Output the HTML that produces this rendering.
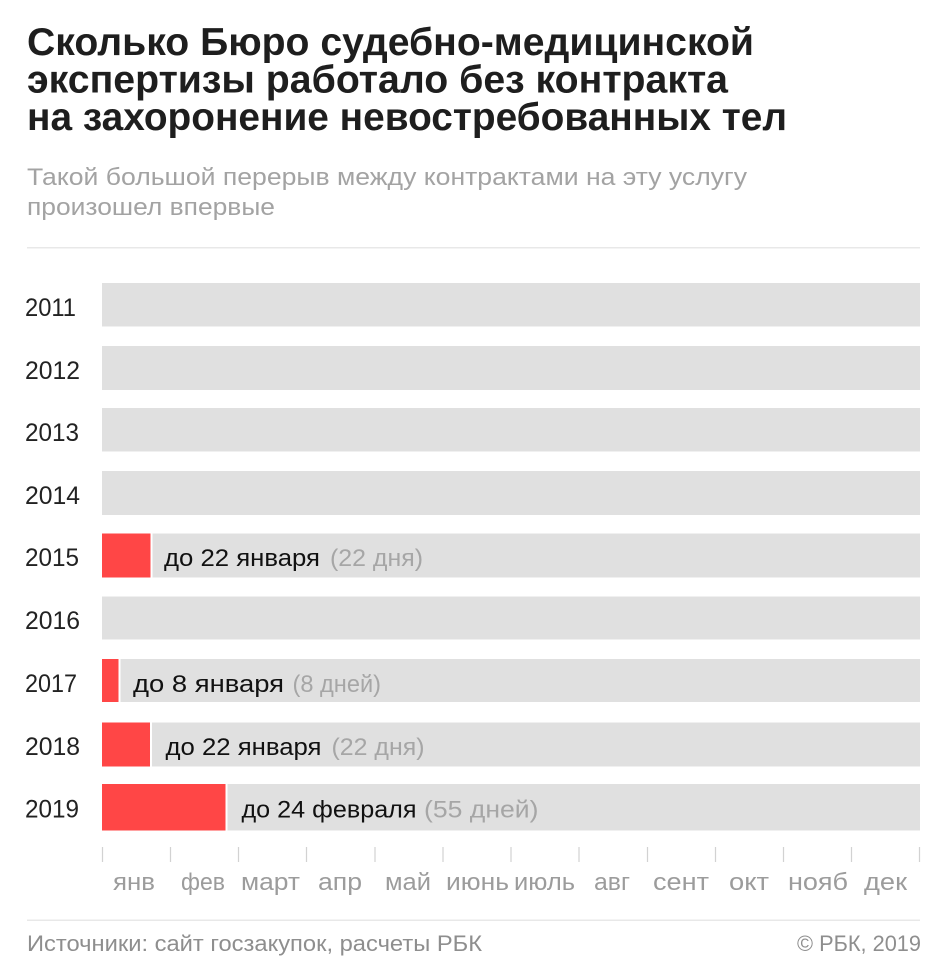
<!DOCTYPE html>
<html>
<head>
<meta charset="utf-8">
<style>
  html, body { margin: 0; padding: 0; background: #ffffff; }
  body { width: 945px; height: 970px; overflow: hidden; }
  svg { display: block; }
  .title { font-family: "Liberation Sans", "Noto Sans CJK SC", sans-serif; font-weight: bold; font-size: 39px; fill: #1e1e1e; }
  .sub { font-family: "Liberation Sans", "Noto Sans CJK SC", sans-serif; font-size: 24px; fill: #a3a3a3; }
  .yr { font-family: "Liberation Sans", "Noto Sans CJK SC", sans-serif; font-size: 25px; fill: #222222; }
  .lbl { font-family: "Liberation Sans", "Noto Sans CJK SC", sans-serif; font-size: 24.5px; fill: #111111; }
  .lblg { font-family: "Liberation Sans", "Noto Sans CJK SC", sans-serif; font-size: 24.5px; fill: #a6a6a6; }
  .mon { font-family: "Liberation Sans", "Noto Sans CJK SC", sans-serif; font-size: 24px; fill: #9c9c9c; }
  .foot { font-family: "Liberation Sans", "Noto Sans CJK SC", sans-serif; font-size: 22px; fill: #8e8e8e; }
</style>
</head>
<body>
<svg width="945" height="970" viewBox="0 0 945 970" xmlns="http://www.w3.org/2000/svg">
  <!-- Title -->
  <text class="title" x="27" y="55" textLength="727" lengthAdjust="spacingAndGlyphs">Сколько Бюро судебно-медицинской</text>
  <text class="title" x="27" y="92.5" textLength="701" lengthAdjust="spacingAndGlyphs">экспертизы работало без контракта</text>
  <text class="title" x="27" y="130" textLength="760" lengthAdjust="spacingAndGlyphs">на захоронение невостребованных тел</text>

  <!-- Subtitle -->
  <text class="sub" x="27" y="185" textLength="720" lengthAdjust="spacingAndGlyphs">Такой большой перерыв между контрактами на эту услугу</text>
  <text class="sub" x="27" y="215" textLength="248" lengthAdjust="spacingAndGlyphs">произошел впервые</text>

  <!-- Top separator -->
  <rect x="27" y="247" width="893" height="1.5" fill="#e8e8e8"/>

  <!-- 2011 -->
  <text class="yr" x="25" y="316" textLength="51" lengthAdjust="spacingAndGlyphs">2011</text>
  <rect x="102" y="283" width="818" height="43.5" fill="#e0e0e0"/>
  <!-- 2012 -->
  <text class="yr" x="25" y="379" textLength="55" lengthAdjust="spacingAndGlyphs">2012</text>
  <rect x="102" y="346" width="818" height="44" fill="#e0e0e0"/>
  <!-- 2013 -->
  <text class="yr" x="25" y="441" textLength="54" lengthAdjust="spacingAndGlyphs">2013</text>
  <rect x="102" y="408" width="818" height="43.5" fill="#e0e0e0"/>
  <!-- 2014 -->
  <text class="yr" x="25" y="504" textLength="55" lengthAdjust="spacingAndGlyphs">2014</text>
  <rect x="102" y="471" width="818" height="44" fill="#e0e0e0"/>
  <!-- 2015 -->
  <text class="yr" x="25" y="566" textLength="54" lengthAdjust="spacingAndGlyphs">2015</text>
  <rect x="102" y="533.5" width="48.5" height="44" fill="#ff4646"/>
  <rect x="152.5" y="533.5" width="767.5" height="44" fill="#e0e0e0"/>
  <text class="lbl" x="164" y="566" textLength="156" lengthAdjust="spacingAndGlyphs">до 22 января</text>
  <text class="lblg" x="330" y="566" textLength="93" lengthAdjust="spacingAndGlyphs">(22 дня)</text>
  <!-- 2016 -->
  <text class="yr" x="25" y="629" textLength="55" lengthAdjust="spacingAndGlyphs">2016</text>
  <rect x="102" y="596.5" width="818" height="43" fill="#e0e0e0"/>
  <!-- 2017 -->
  <text class="yr" x="25" y="692" textLength="52" lengthAdjust="spacingAndGlyphs">2017</text>
  <rect x="102" y="659" width="16.5" height="43" fill="#ff4646"/>
  <rect x="120.5" y="659" width="799.5" height="43" fill="#e0e0e0"/>
  <text class="lbl" x="133" y="692" textLength="151" lengthAdjust="spacingAndGlyphs">до 8 января</text>
  <text class="lblg" x="292.5" y="692" textLength="88.5" lengthAdjust="spacingAndGlyphs">(8 дней)</text>
  <!-- 2018 -->
  <text class="yr" x="25" y="755" textLength="55" lengthAdjust="spacingAndGlyphs">2018</text>
  <rect x="102" y="722.5" width="48" height="44" fill="#ff4646"/>
  <rect x="152" y="722.5" width="768" height="44" fill="#e0e0e0"/>
  <text class="lbl" x="165.5" y="755" textLength="156" lengthAdjust="spacingAndGlyphs">до 22 января</text>
  <text class="lblg" x="331.5" y="755" textLength="93" lengthAdjust="spacingAndGlyphs">(22 дня)</text>
  <!-- 2019 -->
  <text class="yr" x="25" y="817.5" textLength="54" lengthAdjust="spacingAndGlyphs">2019</text>
  <rect x="102" y="784" width="123.5" height="46.5" fill="#ff4646"/>
  <rect x="227.5" y="784" width="692.5" height="46.5" fill="#e0e0e0"/>
  <text class="lbl" x="241.5" y="817.5" textLength="175" lengthAdjust="spacingAndGlyphs">до 24 февраля</text>
  <text class="lblg" x="424" y="817.5" textLength="114.5" lengthAdjust="spacingAndGlyphs">(55 дней)</text>

  <!-- Month ticks -->
  <g stroke="#d2d2d2" stroke-width="1.2">
    <line x1="102.5" y1="847" x2="102.5" y2="862"/>
    <line x1="170.5" y1="847" x2="170.5" y2="862"/>
    <line x1="238.5" y1="847" x2="238.5" y2="862"/>
    <line x1="306.5" y1="847" x2="306.5" y2="862"/>
    <line x1="375" y1="847" x2="375" y2="862"/>
    <line x1="443" y1="847" x2="443" y2="862"/>
    <line x1="511" y1="847" x2="511" y2="862"/>
    <line x1="579" y1="847" x2="579" y2="862"/>
    <line x1="647.5" y1="847" x2="647.5" y2="862"/>
    <line x1="715.5" y1="847" x2="715.5" y2="862"/>
    <line x1="783.5" y1="847" x2="783.5" y2="862"/>
    <line x1="851.5" y1="847" x2="851.5" y2="862"/>
    <line x1="919.5" y1="847" x2="919.5" y2="862"/>
  </g>

  <!-- Month labels -->
  <text class="mon" x="113" y="890" textLength="42" lengthAdjust="spacingAndGlyphs">янв</text>
  <text class="mon" x="181" y="890" textLength="44" lengthAdjust="spacingAndGlyphs">фев</text>
  <text class="mon" x="241" y="890" textLength="59" lengthAdjust="spacingAndGlyphs">март</text>
  <text class="mon" x="318" y="890" textLength="44" lengthAdjust="spacingAndGlyphs">апр</text>
  <text class="mon" x="385" y="890" textLength="46" lengthAdjust="spacingAndGlyphs">май</text>
  <text class="mon" x="446" y="890" textLength="63" lengthAdjust="spacingAndGlyphs">июнь</text>
  <text class="mon" x="514" y="890" textLength="61" lengthAdjust="spacingAndGlyphs">июль</text>
  <text class="mon" x="594" y="890" textLength="36" lengthAdjust="spacingAndGlyphs">авг</text>
  <text class="mon" x="653" y="890" textLength="56" lengthAdjust="spacingAndGlyphs">сент</text>
  <text class="mon" x="729" y="890" textLength="40" lengthAdjust="spacingAndGlyphs">окт</text>
  <text class="mon" x="788" y="890" textLength="60" lengthAdjust="spacingAndGlyphs">нояб</text>
  <text class="mon" x="864" y="890" textLength="43" lengthAdjust="spacingAndGlyphs">дек</text>

  <!-- Footer separator -->
  <rect x="27" y="919.5" width="893" height="1.5" fill="#e8e8e8"/>

  <!-- Footer -->
  <text class="foot" x="27" y="951" textLength="455" lengthAdjust="spacingAndGlyphs">Источники: сайт госзакупок, расчеты РБК</text>
  <text class="foot" x="797" y="951" textLength="124" lengthAdjust="spacingAndGlyphs">© РБК, 2019</text>
</svg>
</body>
</html>
